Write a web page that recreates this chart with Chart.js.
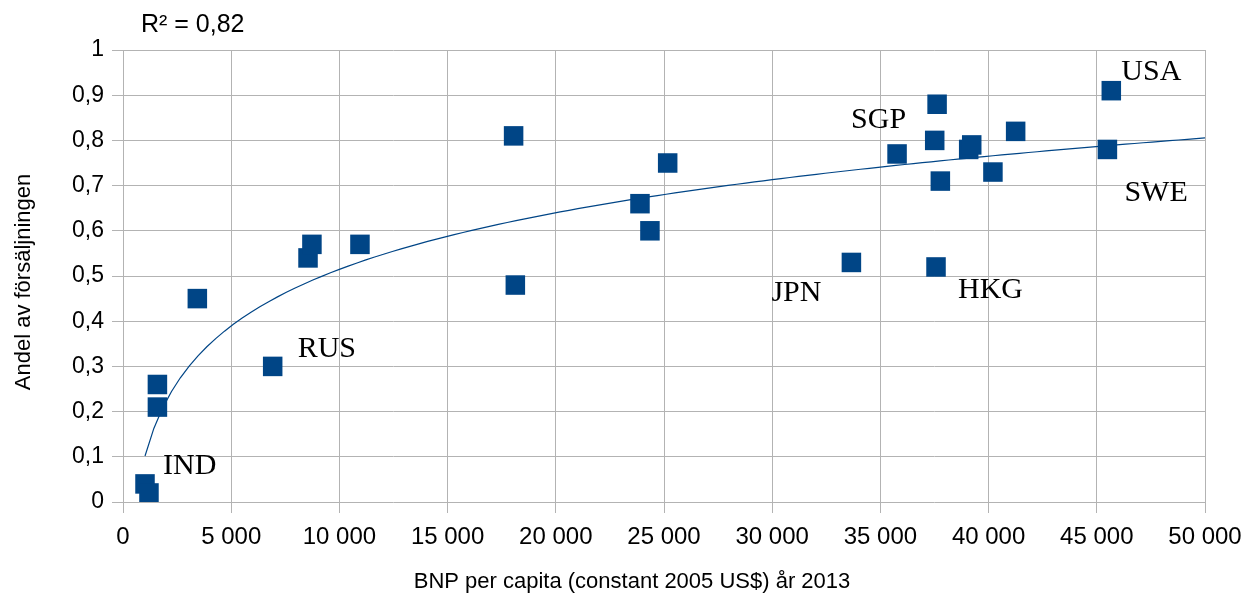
<!DOCTYPE html>
<html>
<head>
<meta charset="utf-8">
<script src="https://cdn.jsdelivr.net/npm/chart.js@4/dist/chart.umd.min.js"></script>
<style>
html,body{margin:0;padding:0;background:#fff;}
canvas{display:block;}
</style>
</head>
<body>
<canvas id="c" width="1258" height="599"></canvas>
<script>
// GDP per capita (constant 2005 US$) 2013
const gdpPerCapita = [1017, 1200, 1590, 1590, 3435, 6917, 8550, 8730, 10950, 18050, 18130, 23890, 24350, 25170, 33660, 35770, 37510, 37620, 37570, 37770, 39080, 39220, 40200, 41250, 45670, 45490];
// Share of sales
const salesShare = [0.04, 0.02, 0.21, 0.26, 0.45, 0.30, 0.54, 0.57, 0.57, 0.81, 0.48, 0.66, 0.60, 0.75, 0.53, 0.77, 0.80, 0.88, 0.52, 0.71, 0.78, 0.79, 0.73, 0.82, 0.91, 0.78];
// Country labels
const countryCodes = ['IND', '', '', '', '', 'RUS', '', '', '', '', '', '', '', '', 'JPN', '', '', 'SGP', 'HKG', '', '', '', '', '', 'USA', 'SWE'];
const xTicks = [0, 5000, 10000, 15000, 20000, 25000, 30000, 35000, 40000, 45000, 50000];
const yTicks = [0, 0.1, 0.2, 0.3, 0.4, 0.5, 0.6, 0.7, 0.8, 0.9, 1];
const rSquaredText = 'R² = 0,82';
const xTitle = 'BNP per capita (constant 2005 US$) år 2013';
const yTitle = 'Andel av försäljningen';

// label placement (pixel offsets from the marker, style only)
const labelOffsets = {IND:[18,-10], RUS:[25,-9], JPN:[-80,39], SGP:[-86,24], HKG:[22,31], USA:[10,-11], SWE:[17,52]};

const points = gdpPerCapita.map((x, i) => ({x: x, y: salesShare[i]}));

// logarithmic trend line fitted to the data (least squares on ln x)
const n = points.length;
let sx = 0, sy = 0, sxx = 0, sxy = 0;
points.forEach(p => { const l = Math.log(p.x); sx += l; sy += p.y; sxx += l * l; sxy += l * p.y; });
const slope = (n * sxy - sx * sy) / (n * sxx - sx * sx);
const intercept = (sy - slope * sx) / n;
const xMinData = Math.min(...gdpPerCapita);
const xMaxAxis = xTicks[xTicks.length - 1];
const trend = [];
for (let k = 0; k <= 120; k++) {
  const x = xMinData + (xMaxAxis - xMinData) * k / 120;
  trend.push({x: x, y: intercept + slope * Math.log(x)});
}

const BLUE = '#004586';
const GRID = '#b3b3b3';

const textPlugin = {
  id: 'texts',
  afterDatasetsDraw(chart) {
    const ctx = chart.ctx;
    const meta = chart.getDatasetMeta(1);
    ctx.save();
    ctx.fillStyle = '#000';
    ctx.font = '30px "Liberation Serif", "Times New Roman", serif';
    ctx.textAlign = 'left';
    ctx.textBaseline = 'alphabetic';
    countryCodes.forEach((c, i) => {
      if (!c) return;
      const el = meta.data[i];
      const off = labelOffsets[c] || [10, -10];
      ctx.fillText(c, el.x + off[0], el.y + off[1]);
    });
    ctx.font = '25px "Liberation Sans", Arial, sans-serif';
    ctx.fillText(rSquaredText, 141, 32);
    ctx.font = '22px "Liberation Sans", Arial, sans-serif';
    ctx.textAlign = 'center';
    ctx.textBaseline = 'middle';
    ctx.fillText(xTitle, 632, 582);
    ctx.translate(24, 282);
    ctx.rotate(-Math.PI / 2);
    ctx.font = '22px "Liberation Sans", Arial, sans-serif';
    ctx.fillText(yTitle, 0, 0);
    ctx.restore();
  }
};

new Chart(document.getElementById('c'), {
  type: 'scatter',
  data: {
    datasets: [
      {
        type: 'line',
        data: trend,
        borderColor: BLUE,
        borderWidth: 1.2,
        pointRadius: 0,
        tension: 0,
        fill: false,
        order: 2
      },
      {
        data: points,
        pointStyle: 'rect',
        pointRadius: 13.8,
        backgroundColor: BLUE,
        borderColor: BLUE,
        borderWidth: 0,
        order: 1
      }
    ]
  },
  options: {
    responsive: false,
    animation: false,
    devicePixelRatio: 1,
    layout: {padding: {top: 50, right: 53, left: 0, bottom: 0}},
    plugins: {legend: {display: false}, tooltip: {enabled: false}, title: {display: false}},
    scales: {
      x: {
        type: 'linear',
        min: xTicks[0],
        max: xTicks[xTicks.length - 1],
        afterBuildTicks(s) { s.ticks = xTicks.map(v => ({value: v})); },
        afterFit(s) { s.height = 97; },
        ticks: {
          color: '#000',
          font: {family: '"Liberation Sans", Arial, sans-serif', size: 24},
          padding: 10,
          maxRotation: 0,
          autoSkip: false,
          callback: v => String(v).replace(/\B(?=(\d{3})+(?!\d))/g, ' ')
        },
        grid: {color: GRID, lineWidth: 1, tickLength: 11, drawTicks: true},
        border: {display: false}
      },
      y: {
        min: yTicks[0],
        max: yTicks[yTicks.length - 1],
        afterBuildTicks(s) { s.ticks = yTicks.map(v => ({value: v})); },
        afterFit(s) { s.width = 123; },
        ticks: {
          color: '#000',
          font: {family: '"Liberation Sans", Arial, sans-serif', size: 23},
          padding: 8,
          autoSkip: false,
          callback: v => (Number.isInteger(v) ? String(v) : v.toFixed(1).replace('.', ','))
        },
        grid: {color: GRID, lineWidth: 1, tickLength: 11, drawTicks: true},
        border: {display: false}
      }
    }
  },
  plugins: [textPlugin]
});
</script>
</body>
</html>
